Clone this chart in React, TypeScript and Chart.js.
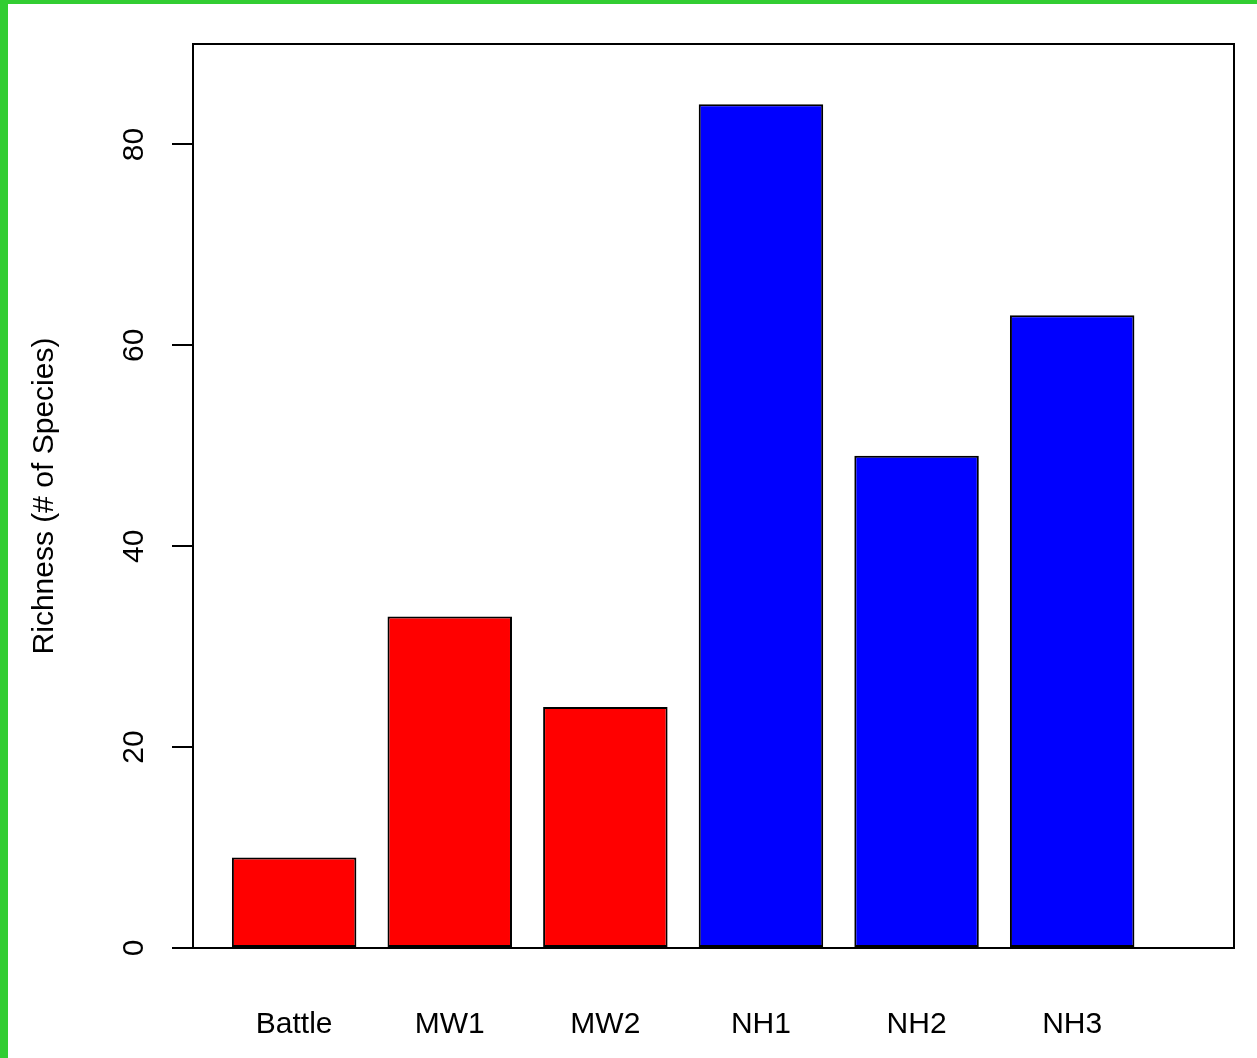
import React, { useEffect, useRef } from "react";
import { Chart, registerables } from "chart.js";

Chart.register(...registerables);

const categories = ["Battle", "MW1", "MW2", "NH1", "NH2", "NH3"];
const richness = [9, 33, 24, 84, 49, 63];
const yTicks = [0, 20, 40, 60, 80];
const barColors = ["#FF0000", "#FF0000", "#FF0000", "#0000FF", "#0000FF", "#0000FF"];
const yLabel = "Richness (# of Species)";

const FONT = "'Liberation Sans', Arial, Helvetica, sans-serif";

const framePlugin = {
  id: "frame",
  afterDraw(chart: any) {
    const { ctx, chartArea: a } = chart;
    ctx.save();
    ctx.strokeStyle = "#000";
    ctx.lineWidth = 2;
    ctx.strokeRect(a.left, a.top, a.right - a.left, a.bottom - a.top);
    ctx.restore();
  },
};

export default function App() {
  const ref = useRef<HTMLCanvasElement | null>(null);

  useEffect(() => {
    if (!ref.current) return;
    const chart = new Chart(ref.current, {
      type: "bar",
      data: {
        datasets: [
          {
            data: richness.map((v, i) => ({ x: i, y: v })),
            backgroundColor: barColors,
            borderColor: "#000",
            borderWidth: 2,
            borderSkipped: false,
            categoryPercentage: 0.8,
            barPercentage: 1,
          } as any,
        ],
      },
      options: {
        responsive: false,
        animation: false,
        devicePixelRatio: 1,
        layout: { padding: { top: 40, right: 23, left: 0, bottom: 0 } },
        plugins: {
          legend: { display: false },
          tooltip: { enabled: false },
        },
        scales: {
          x: {
            type: "linear",
            min: -0.65,
            max: 6.04,
            offset: false,
            grid: { display: false, drawTicks: false },
            border: { display: false },
            afterBuildTicks: (s: any) => {
              s.ticks = categories.map((_, i) => ({ value: i }));
            },
            ticks: {
              callback: (v: any) => categories[v] ?? "",
              font: { family: FONT, size: 30 },
              color: "#000",
              padding: 58.5,
              maxRotation: 0,
              minRotation: 0,
              autoSkip: false,
            },
            afterFit: (s: any) => {
              s.height = 110;
            },
          },
          y: {
            type: "linear",
            min: 0,
            max: 90,
            grid: {
              display: true,
              drawOnChartArea: false,
              drawTicks: true,
              tickLength: 21,
              color: "#000",
              lineWidth: 2,
            },
            border: { display: false },
            afterBuildTicks: (s: any) => {
              s.ticks = yTicks.map((v) => ({ value: v }));
            },
            ticks: {
              font: { family: FONT, size: 30 },
              color: "#000",
              padding: 21,
              minRotation: 90,
              maxRotation: 90,
              crossAlign: "center",
            },
            title: {
              display: true,
              text: yLabel,
              font: { family: FONT, size: 30 },
              color: "#000",
              padding: { top: 19, bottom: 0 },
            },
            afterFit: (s: any) => {
              s.width = 185;
            },
          },
        },
      } as any,
      plugins: [framePlugin],
    });
    return () => chart.destroy();
  }, []);

  return (
    <div
      style={{
        position: "fixed",
        left: 0,
        top: 0,
        width: 1257,
        height: 1058,
        background: "#32CD32",
        overflow: "hidden",
      }}
    >
      <div
        style={{
          position: "absolute",
          left: 8,
          top: 4,
          width: 1249,
          height: 1054,
          background: "#FFFFFF",
        }}
      >
        <canvas
          ref={ref}
          width={1249}
          height={1054}
          style={{ display: "block", width: 1249, height: 1054 }}
        />
      </div>
    </div>
  );
}
